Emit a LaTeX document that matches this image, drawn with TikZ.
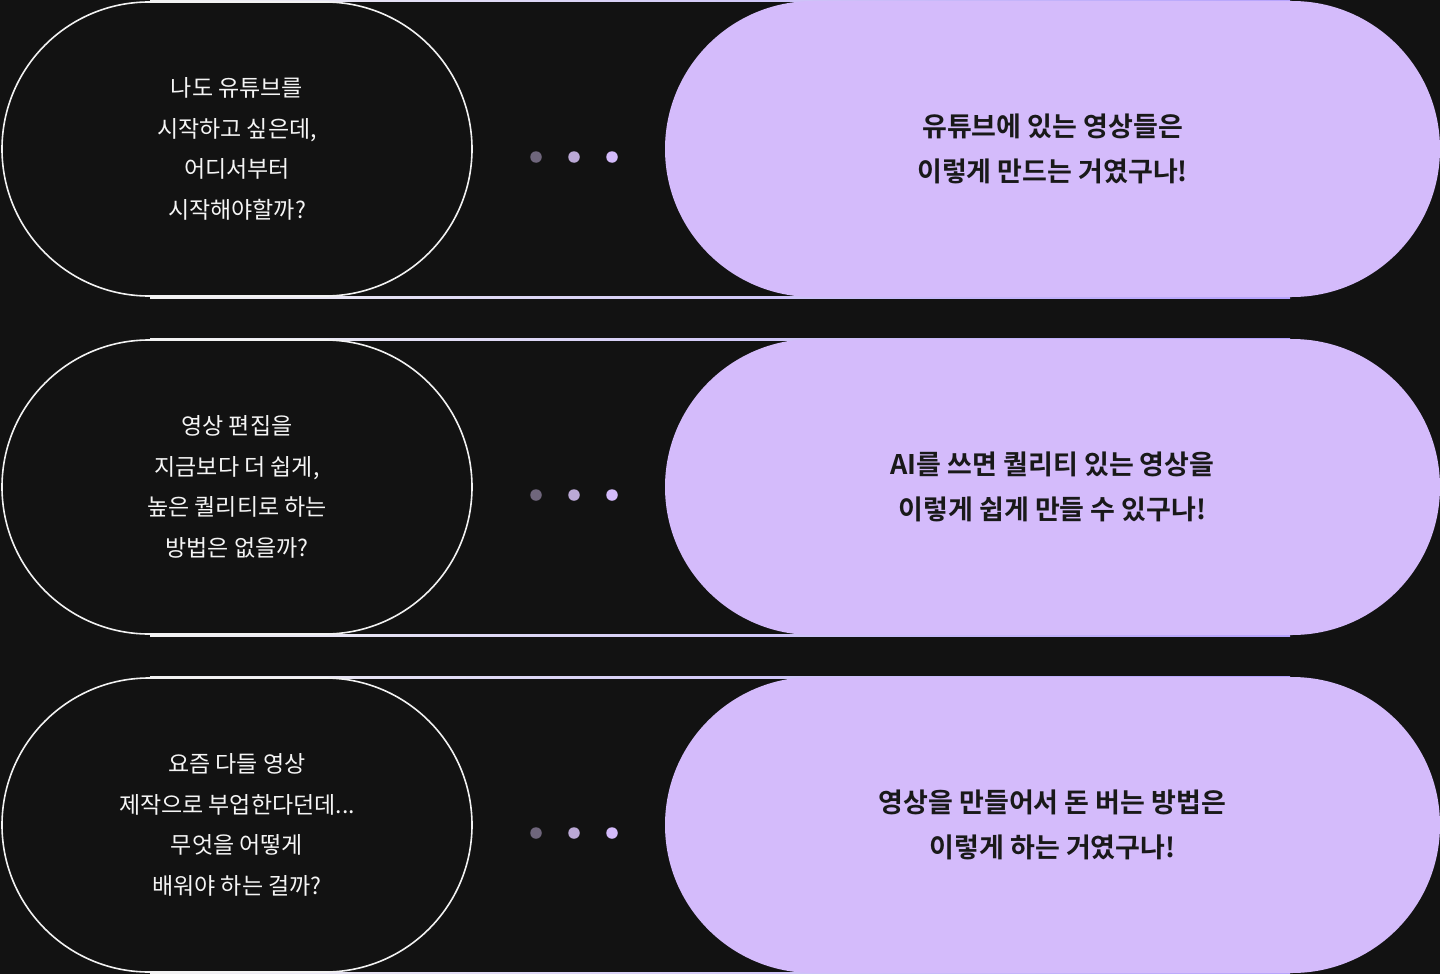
\documentclass[tikz,border=0pt]{standalone}
\usepackage{fontspec}
\newfontfamily\kr{Noto Sans CJK KR}
\newfontfamily\krb{Noto Sans CJK KR Bold}
\begin{document}
\begin{tikzpicture}[x=1pt,y=-1pt,
 q/.style={draw=white!90!gray,line width=1.6pt,rounded corners=147,minimum width=470,minimum height=294,inner sep=0,text=white!92!gray,align=center,font=\kr\fontsize{23}{40.5}\selectfont},
 a/.style={fill=lav,rounded corners=148,minimum width=775,minimum height=296,inner sep=0,text=black!90,align=center,font=\krb\fontsize{27}{45}\selectfont},
 dt/.style={circle,minimum size=11.5,inner sep=0}]
\definecolor{lav}{HTML}{D4BBFB}
\definecolor{bg}{HTML}{121212}
\useasboundingbox (0,0) rectangle (1440,974);
\fill[bg] (0,0) rectangle (1440,974);
\foreach \yy in {0,338,676}{
  \shade[left color=white!90!gray,right color=lav!80!blue!90,shading angle=90] (150,\yy) rectangle (1290,\yy+2);
  \shade[left color=white!90!gray,right color=lav!80!blue!90] (150,\yy+296) rectangle (1290,\yy+298);
}
\node[q] (q1) at (237,149) {나도 유튜브를\\시작하고 싶은데,\\어디서부터\\시작해야할까?};
\node[a] (a1) at (1052.5,149) {유튜브에 있는 영상들은\\이렇게 만드는 거였구나!};
\node[q] (q2) at (237,487) {영상 편집을\\지금보다 더 쉽게,\\높은 퀄리티로 하는\\방법은 없을까?};
\node[a] (a2) at (1052.5,487) {AI를 쓰면 퀄리티 있는 영상을\\이렇게 쉽게 만들 수 있구나!};
\node[q] (q3) at (237,825) {요즘 다들 영상\\제작으로 부업한다던데...\\무엇을 어떻게\\배워야 하는 걸까?};
\node[a] (a3) at (1052.5,825) {영상을 만들어서 돈 버는 방법은\\이렇게 하는 거였구나!};
\foreach \yy/\n in {157/1,495/2,833/3}{
  \node[dt,fill=lav!45!bg!75!gray] (d\n a) at (536,\yy) {};
  \node[dt,fill=lav!70!gray] (d\n b) at (574,\yy) {};
  \node[dt,fill=lav] (d\n c) at (612,\yy) {};
}
\end{tikzpicture}
\end{document}
